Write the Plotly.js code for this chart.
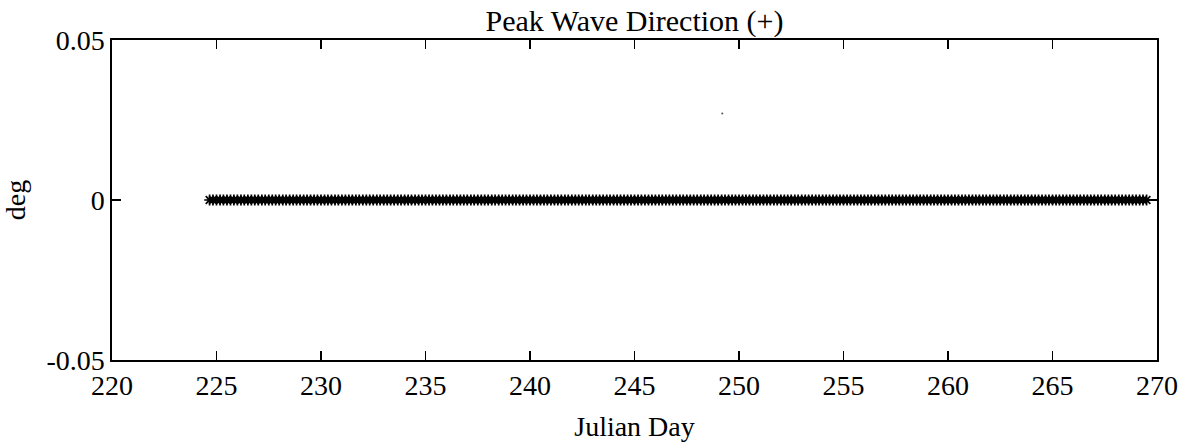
<!DOCTYPE html>
<html>
<head>
<meta charset="utf-8">
<script src="https://cdn.plot.ly/plotly-3.0.1.min.js"></script>
<style>html,body{margin:0;padding:0;background:#fff;}#chart{width:1187px;height:448px;}</style>
</head>
<body>
<div id="chart"></div>
<script>
// Julian day of each sample (every 4 hours)
const julianDay = [
224.67,224.83,
225,225.17,225.33,225.5,225.67,225.83,
226,226.17,226.33,226.5,226.67,226.83,
227,227.17,227.33,227.5,227.67,227.83,
228,228.17,228.33,228.5,228.67,228.83,
229,229.17,229.33,229.5,229.67,229.83,
230,230.17,230.33,230.5,230.67,230.83,
231,231.17,231.33,231.5,231.67,231.83,
232,232.17,232.33,232.5,232.67,232.83,
233,233.17,233.33,233.5,233.67,233.83,
234,234.17,234.33,234.5,234.67,234.83,
235,235.17,235.33,235.5,235.67,235.83,
236,236.17,236.33,236.5,236.67,236.83,
237,237.17,237.33,237.5,237.67,237.83,
238,238.17,238.33,238.5,238.67,238.83,
239,239.17,239.33,239.5,239.67,239.83,
240,240.17,240.33,240.5,240.67,240.83,
241,241.17,241.33,241.5,241.67,241.83,
242,242.17,242.33,242.5,242.67,242.83,
243,243.17,243.33,243.5,243.67,243.83,
244,244.17,244.33,244.5,244.67,244.83,
245,245.17,245.33,245.5,245.67,245.83,
246,246.17,246.33,246.5,246.67,246.83,
247,247.17,247.33,247.5,247.67,247.83,
248,248.17,248.33,248.5,248.67,248.83,
249,249.17,249.33,249.5,249.67,249.83,
250,250.17,250.33,250.5,250.67,250.83,
251,251.17,251.33,251.5,251.67,251.83,
252,252.17,252.33,252.5,252.67,252.83,
253,253.17,253.33,253.5,253.67,253.83,
254,254.17,254.33,254.5,254.67,254.83,
255,255.17,255.33,255.5,255.67,255.83,
256,256.17,256.33,256.5,256.67,256.83,
257,257.17,257.33,257.5,257.67,257.83,
258,258.17,258.33,258.5,258.67,258.83,
259,259.17,259.33,259.5,259.67,259.83,
260,260.17,260.33,260.5,260.67,260.83,
261,261.17,261.33,261.5,261.67,261.83,
262,262.17,262.33,262.5,262.67,262.83,
263,263.17,263.33,263.5,263.67,263.83,
264,264.17,264.33,264.5,264.67,264.83,
265,265.17,265.33,265.5,265.67,265.83,
266,266.17,266.33,266.5,266.67,266.83,
267,267.17,267.33,267.5,267.67,267.83,
268,268.17,268.33,268.5,268.67,268.83,
269,269.17,269.33,269.5
];
// Peak wave direction (deg) for each sample
const peakDir = [
0,0,
0,0,0,0,0,0, 0,0,0,0,0,0, 0,0,0,0,0,0, 0,0,0,0,0,0, 0,0,0,0,0,0,
0,0,0,0,0,0, 0,0,0,0,0,0, 0,0,0,0,0,0, 0,0,0,0,0,0, 0,0,0,0,0,0,
0,0,0,0,0,0, 0,0,0,0,0,0, 0,0,0,0,0,0, 0,0,0,0,0,0, 0,0,0,0,0,0,
0,0,0,0,0,0, 0,0,0,0,0,0, 0,0,0,0,0,0, 0,0,0,0,0,0, 0,0,0,0,0,0,
0,0,0,0,0,0, 0,0,0,0,0,0, 0,0,0,0,0,0, 0,0,0,0,0,0, 0,0,0,0,0,0,
0,0,0,0,0,0, 0,0,0,0,0,0, 0,0,0,0,0,0, 0,0,0,0,0,0, 0,0,0,0,0,0,
0,0,0,0,0,0, 0,0,0,0,0,0, 0,0,0,0,0,0, 0,0,0,0,0,0, 0,0,0,0,0,0,
0,0,0,0,0,0, 0,0,0,0,0,0, 0,0,0,0,0,0, 0,0,0,0,0,0, 0,0,0,0,0,0,
0,0,0,0,0,0, 0,0,0,0,0,0, 0,0,0,0,0,0, 0,0,0,0,0,0, 0,0,0,0,0,0,
0,0,0,0
];
// isolated stray point
const strayDay = [249.2];
const strayDir = [0.027];

const xTickVals = [220,225,230,235,240,245,250,255,260,265,270];
const xTickText = ["220","225","230","235","240","245","250","255","260","265","270"];
const yTickVals = [-0.05,0,0.05];
const yTickText = ["-0.05","0","0.05"];

const fam = "'Liberation Serif', 'Times New Roman', serif";
const font = {family: fam, size: 28, color: "#000"};
const titleFont = {family: fam, size: 30, color: "#000"};

const traces = [
  {x: julianDay, y: peakDir, type: "scatter", mode: "markers",
   marker: {symbol: "asterisk-open", size: 9, color: "#000", line: {color: "#000", width: 1.7}},
   hoverinfo: "skip", showlegend: false},
  {x: strayDay, y: strayDir, type: "scatter", mode: "markers",
   marker: {symbol: "circle", size: 2, color: "#555"}, hoverinfo: "skip", showlegend: false}
];

const layout = {
  width: 1187, height: 448,
  margin: {l: 112, r: 30, t: 40, b: 88},
  paper_bgcolor: "#fff", plot_bgcolor: "#fff",
  font: font,
  showlegend: false,
  title: {text: "Peak Wave Direction (+)", font: titleFont, x: 0.5, xref: "paper", xanchor: "center",
          y: 1 - 20/448, yref: "container", yanchor: "middle"},
  xaxis: {range: [220, 270], tickvals: xTickVals, ticktext: xTickText,
          ticks: "inside", ticklen: 9, tickwidth: 1.5, tickcolor: "#000",
          showline: true, linecolor: "#000", linewidth: 1.6, mirror: "ticks",
          showgrid: false, zeroline: false, tickfont: font,
          title: {text: "Julian Day", font: font, standoff: 16}},
  yaxis: {range: [-0.05, 0.05], tickvals: yTickVals, ticktext: yTickText,
          ticks: "inside", ticklen: 9, tickwidth: 1.5, tickcolor: "#000",
          showline: true, linecolor: "#000", linewidth: 1.6, mirror: "ticks",
          showgrid: false, zeroline: false, tickfont: font,
          title: {text: "deg", font: font, standoff: 12}}
};

Plotly.newPlot("chart", traces, layout, {displayModeBar: false, staticPlot: true});
</script>
</body>
</html>
